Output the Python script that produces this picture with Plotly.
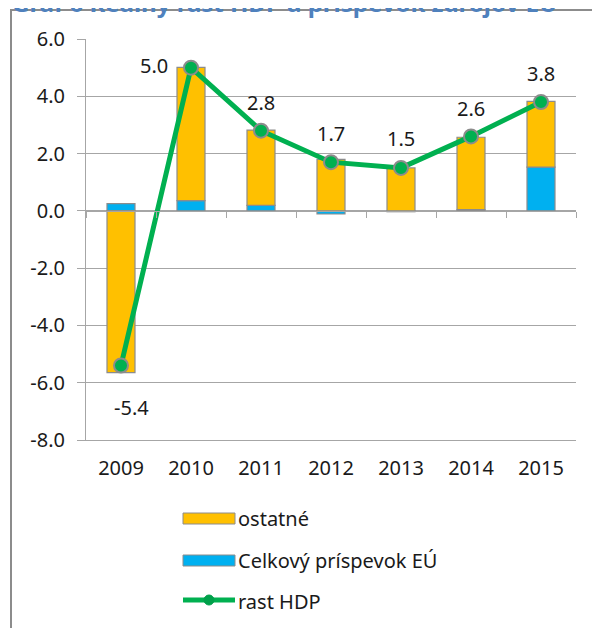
import plotly.graph_objects as go

# ---- data ----
years = ["2009", "2010", "2011", "2012", "2013", "2014", "2015"]
eu_contribution = [0.25, 0.36, 0.19, -0.11, -0.03, 0.04, 1.53]   # Celkový príspevok EÚ
ostatne = [-5.65, 4.65, 2.63, 1.80, 1.50, 2.53, 2.29]            # ostatné
rast_hdp = [-5.4, 5.0, 2.8, 1.7, 1.5, 2.6, 3.8]                    # rast HDP
hdp_labels = ["-5.4", "5.0", "2.8", "1.7", "1.5", "2.6", "3.8"]
y_ticks = [6, 4, 2, 0, -2, -4, -6, -8]
y_tick_labels = ["6.0", "4.0", "2.0", "0.0", "-2.0", "-4.0", "-6.0", "-8.0"]

title_text = "Graf 6 Reálny rast HDP a príspevok zdrojov EÚ"
legend_names = ["ostatné", "Celkový príspevok EÚ", "rast HDP"]

# ---- style ----
YELLOW = "#FFC000"
BLUE = "#00B0F0"
GREEN = "#00B050"
GRAY = "#8C8C8C"
GRID = "#A6A6A6"
FONT = "Noto Sans"
TXT = "#1a1a1a"

OFF = 8                     # page body margin
W, H = 600 - OFF, 628 - OFF
ML, MR, MT, MB = 78, 24, 31, 188
PW = W - ML - MR
PH = H - MT - MB


def px(x):
    """screen x -> paper fraction"""
    return (x - OFF - ML) / PW


def py(y):
    """screen y -> paper fraction"""
    return (H - MB - (y - OFF)) / PH


fig = go.Figure()

fig.add_trace(go.Bar(
    x=years, y=eu_contribution, name=legend_names[1],
    marker=dict(color=BLUE, line=dict(color=GRAY, width=1.2)),
    width=0.4, showlegend=False, hoverinfo="skip"))
fig.add_trace(go.Bar(
    x=years, y=ostatne, name=legend_names[0],
    marker=dict(color=YELLOW, line=dict(color=GRAY, width=1.2)),
    width=0.4, showlegend=False, hoverinfo="skip"))
fig.add_trace(go.Scatter(
    x=years, y=rast_hdp, name=legend_names[2], mode="lines+markers",
    line=dict(color=GREEN, width=5),
    marker=dict(size=14, color=GREEN, line=dict(color=GRAY, width=2)),
    showlegend=False, hoverinfo="skip"))
# helper trace to show the category axis at zero
fig.add_trace(go.Scatter(x=years, y=[None] * len(years), xaxis="x2",
                         showlegend=False, hoverinfo="skip"))

annotations = []
# data labels (category axis -> use category index)
shifts = [(10, -42), (-37, 2), (0, 28), (0, 29), (0, 29), (0, 28), (0, 29)]
for i, (val, lab, (dx, dy)) in enumerate(zip(rast_hdp, hdp_labels, shifts)):
    annotations.append(dict(x=i, y=val, xref="x", yref="y", text=lab,
                            showarrow=False, xshift=dx, yshift=dy,
                            font=dict(family=FONT, size=20, color=TXT)))

# frame and title
shapes = [dict(type="rect", xref="paper", yref="paper",
               x0=px(11), x1=px(660), y0=py(680), y1=py(10),
               line=dict(color=GRAY, width=2), fillcolor="rgba(0,0,0,0)",
               layer="below")]
annotations.append(dict(text="<b>" + title_text + "</b>", xref="paper", yref="paper",
                        x=px(10), y=py(2), xanchor="left", yanchor="middle",
                        showarrow=False,
                        font=dict(family=FONT, size=24, color="#4F81BD")))

# manual legend
shapes += [
    dict(type="rect", xref="paper", yref="paper", x0=px(183), x1=px(235),
         y0=py(524), y1=py(513), fillcolor=YELLOW, line=dict(color=GRAY, width=1)),
    dict(type="rect", xref="paper", yref="paper", x0=px(183), x1=px(235),
         y0=py(566), y1=py(555), fillcolor=BLUE, line=dict(color=GRAY, width=1)),
    dict(type="line", xref="paper", yref="paper", x0=px(183), x1=px(235),
         y0=py(600), y1=py(600), line=dict(color=GREEN, width=5)),
    dict(type="circle", xref="paper", yref="paper", x0=px(204), x1=px(214),
         y0=py(605), y1=py(595), fillcolor="#00A04A", line=dict(color="#00A04A", width=1)),
]
for name, yy in zip(legend_names, [518, 560, 601]):
    annotations.append(dict(text=name, xref="paper", yref="paper", x=px(236), y=py(yy),
                            xanchor="left", yanchor="middle", showarrow=False,
                            font=dict(family=FONT, size=20, color=TXT)))

fig.update_layout(
    width=W, height=H,
    margin=dict(l=ML, r=MR, t=MT, b=MB, autoexpand=False),
    paper_bgcolor="white", plot_bgcolor="white",
    barmode="relative",
    shapes=shapes, annotations=annotations,
    font=dict(family=FONT, color=TXT),
    xaxis=dict(type="category", range=[-0.5, 6.5], showgrid=False,
               showline=True, linecolor=GRID, linewidth=1, automargin=False,
               ticks="", ticklabelstandoff=10,
               tickfont=dict(family=FONT, size=20, color=TXT)),
    xaxis2=dict(type="category", range=[-0.5, 6.5], overlaying="x",
                anchor="free", position=8 / 14, side="bottom", automargin=False,
                showgrid=False, showline=True, linecolor=GRID, linewidth=1,
                ticks="outside", tickson="boundaries", ticklen=6,
                tickcolor=GRID, showticklabels=False),
    yaxis=dict(range=[-8, 6], tickvals=y_ticks, ticktext=y_tick_labels,
               showgrid=True, gridcolor=GRID, gridwidth=1, automargin=False,
               zeroline=False, showline=True, linecolor=GRID, linewidth=1,
               ticks="outside", ticklen=8, tickcolor=GRID,
               ticklabelstandoff=8,
               tickfont=dict(family=FONT, size=20, color=TXT)),
)

fig.write_html("out.html")
